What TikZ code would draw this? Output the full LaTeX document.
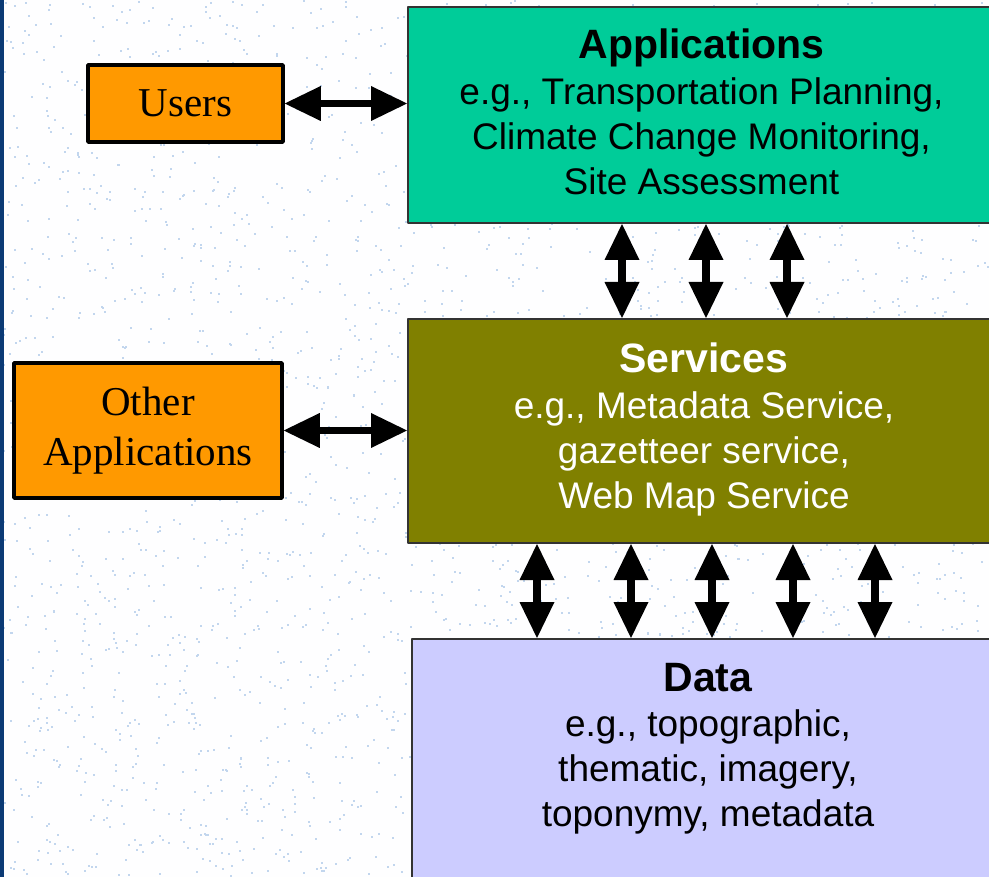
\documentclass[tikz,border=0pt]{standalone}
\usepackage{fontspec}
\setmainfont{Liberation Serif}
\setsansfont{Liberation Sans}
\usetikzlibrary{arrows.meta,positioning}
\definecolor{appgreen}{HTML}{00CC99}
\definecolor{servolive}{HTML}{808000}
\definecolor{datablue}{HTML}{CCCCFF}
\definecolor{userorange}{HTML}{FF9900}
\definecolor{dotblue}{HTML}{C2D6EE}
\definecolor{edgeblue}{HTML}{0B3A75}
\begin{document}
\begin{tikzpicture}[x=1pt,y=-1pt,line join=round,
        layer/.style={draw=black!80,line width=2pt,inner sep=0pt},
        layertext/.style={inner sep=0pt,font=\sffamily\fontsize{37}{45}\selectfont,align=center},
        actor/.style={draw=black,line width=3.5pt,fill=userorange,inner sep=0pt,font=\rmfamily\fontsize{41}{50}\selectfont,align=center},
        dbl/.style={line width=7.5pt,{Triangle[width=35pt,length=36pt,line width=0pt]}-{Triangle[width=35pt,length=36pt,line width=0pt]}}]
                \useasboundingbox (0,0) rectangle (989,877);
                \clip (0,0) rectangle (989,877);
                \fill[white!98!dotblue] (0,0) rectangle (989,877);
                \pgfmathsetseed{42}
                \foreach \i in {1,...,3200}\fill[dotblue] ({rnd*989},{rnd*877}) rectangle ++(2,2);
                \fill[edgeblue] (0,0) rectangle (3.5,877);
                % layers
                \node[layer,fill=appgreen,minimum width=587pt,minimum height=216pt] (app) at (701.5,115) {};
                \node[layertext] (apptxt) at ([yshift=3pt]app.center)
                    {{\fontsize{41}{45}\bfseries Applications}\\[1pt]e.g., Transportation Planning,\\Climate Change Monitoring,\\Site Assessment};
                \node[layer,fill=servolive,minimum width=592pt,minimum height=224pt] (serv) at (704,431) {};
                \node[layertext,text=white] (servtxt) at ([yshift=2pt]serv.center)
                    {{\fontsize{41}{45}\bfseries Services}\\[1pt]e.g., Metadata Service,\\gazetteer service,\\Web Map Service};
                \node[layer,fill=datablue,minimum width=592pt,minimum height=300pt,anchor=north] (data) at (708,638) {};
                \node[layertext,anchor=north] (datatxt) at ([yshift=-25pt]data.north)
                    {{\fontsize{41}{45}\bfseries Data}\\[0pt]e.g., topographic,\\thematic, imagery,\\toponymy, metadata};
                % users
                \node[actor,minimum width=195pt,minimum height=77pt] (users) at (185.5,103.5) {Users};
                \node[actor,minimum width=268pt,minimum height=135pt] (other) at (148,430.5) {Other\\Applications};
                \draw[dbl] (users.east) -- (users.east -| app.west);
                \draw[dbl] (other.east) -- (other.east -| serv.west);
                \foreach \x in {622,706,787}\draw[dbl] (\x,0 |- app.south) -- (\x,0 |- serv.north);
                \foreach \x in {537,631,712,793,875}\draw[dbl] (\x,0 |- serv.south) -- (\x,0 |- data.north);
            \end{tikzpicture}
\end{document}
